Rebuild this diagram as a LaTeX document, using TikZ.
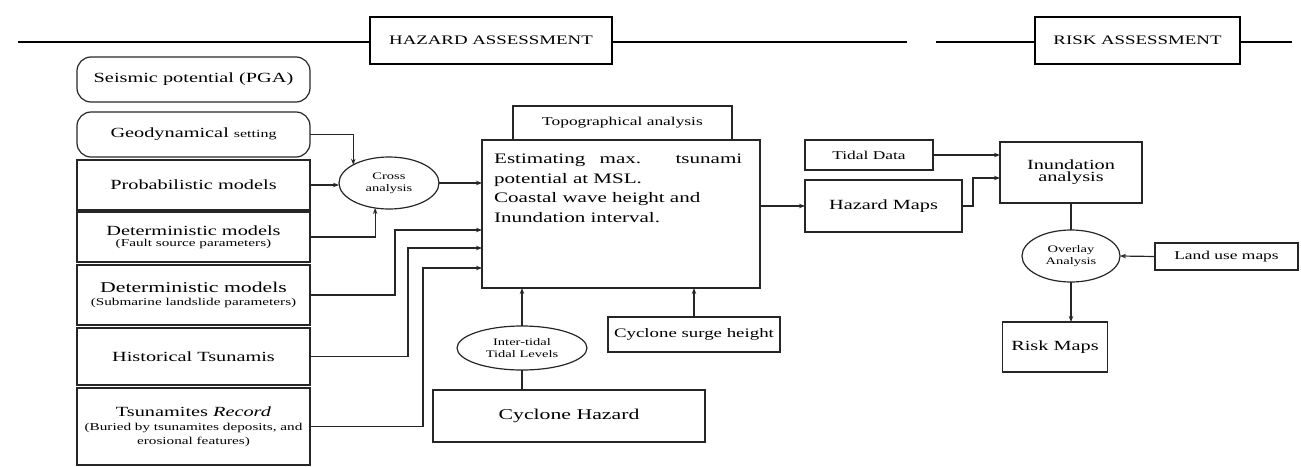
\documentclass[tikz,border=0pt]{standalone}
\usepackage{fontspec}
\setmainfont{Liberation Serif}[FakeStretch=1.45]
\usetikzlibrary{arrows.meta,shapes.geometric,calc}
\tikzset{
  ln/.style={draw=black!85, line width=1.2pt},
  arr/.style={ln, -{Stealth[length=6pt,width=4.5pt]}},
  box/.style={ln, rectangle, inner sep=1pt, outer sep=0pt, align=center},
  rbox/.style={box, rounded corners=14pt},
  ell/.style={ln, ellipse, inner sep=0pt, outer sep=0pt, align=center},
  head/.style={draw=black, line width=2.2pt, rectangle, inner sep=0pt, outer sep=0pt},
}
\newcommand{\fsz}[1]{\fontsize{#1}{#1}\selectfont}
\begin{document}
\begin{tikzpicture}[x=1pt,y=-1pt]
\useasboundingbox (0,0) rectangle (1301,466);
% headings
\node[head, minimum width=242pt, minimum height=47pt] (haz) at (491,40.5) {\fsz{13}HAZARD ASSESSMENT};
\node[head, minimum width=205pt, minimum height=47pt] (rsk) at (1137.5,40.5) {\fsz{13}RISK ASSESSMENT};
\coordinate (l1) at (18,42);
\coordinate (l2) at (907,42);
\coordinate (l3) at (936,42);
\coordinate (l4) at (1292,42);
\draw[line width=2pt] (l1) -- (l1 -| haz.west);
\draw[line width=2pt] (haz.east |- l2) -- (l2);
\draw[line width=2pt] (l3) -- (l3 -| rsk.west);
\draw[line width=2pt] (rsk.east |- l4) -- (l4);
% left column
\node[rbox, minimum width=233pt, minimum height=45pt] (seis) at (193.5,79.5) {\fsz{14}Seismic potential (PGA)};
\node[rbox, minimum width=233pt, minimum height=45pt] (geo) at (193.5,134.5) {\fsz{14}Geodynamical \fsz{11}setting};
\node[box, minimum width=233pt, minimum height=50pt] (prob) at (193.5,185) {\fsz{14}Probabilistic models};
\node[box, minimum width=233pt, minimum height=50pt] (detf) at (193.5,237) {\fsz{14}Deterministic models\\[-1pt]\fsz{10.5}(Fault source parameters)};
\node[box, minimum width=233pt, minimum height=60pt] (detl) at (193.5,295) {\fsz{15}Deterministic models\\[1pt]\fsz{10.5}(Submarine landslide parameters)};
\node[box, minimum width=233pt, minimum height=57pt] (hist) at (193.5,356.5) {\fsz{14}Historical Tsunamis};
\node[box, minimum width=233pt, minimum height=77pt] (tsu) at (193.5,426.5) {\fsz{14}Tsunamites \textit{Record}\\[2pt]\fsz{10.5}(Buried by tsunamites deposits, and\\[2pt]\fsz{10.5}erosional features)};
% middle
\node[ell, minimum width=100pt, minimum height=52pt] (cross) at (389,183) {\fsz{10}Cross\\\fsz{10}analysis};
\node[box, minimum width=278pt, minimum height=148pt] (big) at (621,214) {};
\node[anchor=north west, align=left, inner sep=0pt, font=\fontsize{14.5}{19.5}\selectfont] (bigt) at (494,154)
  {\makebox[248pt][s]{Estimating max. tsunami}\\ potential at MSL.\\ Coastal wave height and\\ Inundation interval.};
\node[box, minimum width=219pt, minimum height=34pt] (topo) at (622.5,123) {\fsz{12}Topographical analysis};
\node[ell, minimum width=130pt, minimum height=44pt] (tide) at (522,348) {\fsz{10}Inter-tidal\\\fsz{10}Tidal Levels};
\node[box, minimum width=272pt, minimum height=52pt] (cyc) at (569,416) {\fsz{15}Cyclone Hazard};
\node[box, minimum width=172pt, minimum height=35pt] (surge) at (694,334.5) {\fsz{13}Cyclone surge height};
% right
\node[box, minimum width=128pt, minimum height=30pt] (tdata) at (869,155) {\fsz{12}Tidal Data};
\node[box, minimum width=157pt, minimum height=52pt] (hmap) at (883.5,206) {\fsz{14}Hazard Maps};
\node[box, minimum width=142pt, minimum height=61pt] (inund) at (1071,172.5) {\fsz{14}Inundation\\\fsz{14}analysis};
\node[ell, minimum width=98pt, minimum height=52pt] (ovl) at (1071,256) {\fsz{10}Overlay\\\fsz{10}Analysis};
\node[box, minimum width=143pt, minimum height=27pt] (land) at (1226.5,256.5) {\fsz{12}Land use maps};
\node[box, minimum width=105pt, minimum height=50pt] (risk) at (1055,347) {\fsz{14}Risk Maps};
% connectors
\draw[arr] (geo.east) -| (cross.153);
\draw[arr] (prob.east) -- (prob.east -| cross.west);
\draw[arr] (detf.east) -| (cross.241);
\draw[arr] (cross.east) -- (cross.east -| big.west);
\coordinate (j1) at (395,230);
\coordinate (j2) at (408,248);
\coordinate (j3) at (423,268);
\draw[arr] (detl.east) -| (j1) -- (j1 -| big.west);
\draw[arr] (hist.east) -| (j2) -- (j2 -| big.west);
\draw[arr] (tsu.east) -| (j3) -- (j3 -| big.west);
\draw[arr] (tide.north) -- (tide.north |- big.south);
\draw[ln] (tide.south |- cyc.north) -- (tide.south);
\draw[arr] (surge.north) -- (surge.north |- big.south);
\draw[arr] (big.east |- hmap.west) -- (hmap.west);
\draw[arr] (tdata.east) -- (tdata.east -| inund.west);
\coordinate (j4) at (973,178);
\draw[arr] (hmap.east) -| (j4) -- (j4 -| inund.west);
\draw[ln] (inund.south) -- (ovl.north);
\draw[arr] (land.west) -- (ovl.east);
\draw[arr] (ovl.south) -- (ovl.south |- risk.north);
\end{tikzpicture}
\end{document}
